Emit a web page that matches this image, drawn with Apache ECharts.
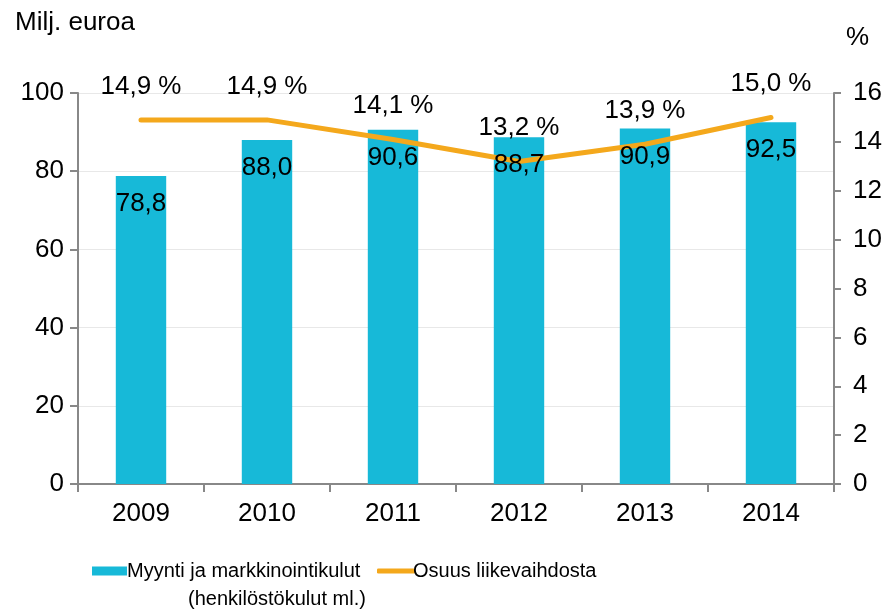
<!DOCTYPE html>
<html>
<head>
<meta charset="utf-8">
<script src="https://cdn.jsdelivr.net/npm/echarts@6/dist/echarts.min.js"></script>
<style>
html,body{margin:0;padding:0;background:#fff;}
#chart{width:886px;height:616px;}
</style>
</head>
<body>
<div id="chart"></div>
<script>
var categories = ['2009', '2010', '2011', '2012', '2013', '2014'];
var costs = [78.8, 88.0, 90.6, 88.7, 90.9, 92.5];
var share = [14.9, 14.9, 14.1, 13.2, 13.9, 15.0];
var leftTicks = [0, 20, 40, 60, 80, 100];
var rightTicks = [0, 2, 4, 6, 8, 10, 12, 14, 16];
var barName = 'Myynti ja markkinointikulut';
var barName2 = '(henkilöstökulut ml.)';
var lineName = 'Osuus liikevaihdosta';
var leftUnit = 'Milj. euroa';
var rightUnit = '%';

var FONT = "'Liberation Sans', Arial, sans-serif";
var BAR = '#17B9D8';
var LINE = '#F4A81C';
var AX = '#888888';

function fmt(v, d) { return v.toFixed(d).replace('.', ','); }

var chart = echarts.init(document.getElementById('chart'), null, {renderer: 'canvas'});
chart.setOption({
  animation: false,
  textStyle: {fontFamily: FONT},
  grid: {left: 78, right: 52, top: 93, bottom: 132, containLabel: false},
  xAxis: {
    type: 'category',
    data: categories,
    axisLine: {lineStyle: {color: AX, width: 2}},
    axisTick: {show: true, length: 8, lineStyle: {color: AX, width: 2}},
    axisLabel: {color: '#000', fontSize: 26, margin: 17, fontFamily: FONT}
  },
  yAxis: [{
    type: 'value', min: leftTicks[0], max: leftTicks[leftTicks.length - 1], interval: 20,
    axisLine: {show: true, lineStyle: {color: AX, width: 2}},
    axisTick: {show: true, length: 8, lineStyle: {color: AX, width: 2}},
    axisLabel: {color: '#000', fontSize: 26, margin: 14, fontFamily: FONT},
    splitLine: {show: true, lineStyle: {color: '#E8E8E8', width: 1}}
  }, {
    type: 'value', min: rightTicks[0], max: rightTicks[rightTicks.length - 1], interval: 2,
    position: 'right',
    axisLine: {show: true, lineStyle: {color: AX, width: 2}},
    axisTick: {show: true, length: 7, lineStyle: {color: AX, width: 2}},
    axisLabel: {color: '#000', fontSize: 26, margin: 19, fontFamily: FONT},
    splitLine: {show: false}
  }],
  legend: [{
    data: [{name: barName, icon: 'rect'}],
    left: 87, top: 556,
    itemWidth: 35, itemHeight: 9, itemGap: 4,
    textStyle: {fontSize: 20, color: '#000', fontFamily: FONT, padding: [0, 0, 0, -5]}
  }, {
    data: [{name: lineName, icon: 'roundRect'}],
    left: 372, top: 556,
    itemWidth: 38, itemHeight: 5,
    itemStyle: {color: LINE},
    textStyle: {fontSize: 20, color: '#000', fontFamily: FONT, padding: [0, 0, 0, -7]}
  }],
  graphic: [
    {type: 'text', left: 15, top: 10, style: {text: leftUnit, font: '26px ' + FONT, fill: '#000'}},
    {type: 'text', left: 846, top: 25, style: {text: rightUnit, font: '26px ' + FONT, fill: '#000'}},
    {type: 'text', left: 188, top: 589, style: {text: barName2, font: '20px ' + FONT, fill: '#000'}}
  ],
  series: [{
    name: barName,
    type: 'bar',
    data: costs,
    barWidth: '40%',
    itemStyle: {color: BAR},
    z: 1
  }, {
    name: lineName,
    type: 'line',
    yAxisIndex: 1,
    data: share,
    symbol: 'circle',
    symbolSize: 1,
    showSymbol: true,
    lineStyle: {color: LINE, width: 5, cap: 'round', join: 'round'},
    itemStyle: {color: LINE},
    label: {show: true, position: 'top', distance: 20, color: '#000', fontSize: 26, fontFamily: FONT,
      formatter: function (p) { return fmt(p.value, 1) + ' %'; }},
    z: 3
  }, {
    name: barName + ' (arvot)',
    type: 'bar',
    data: costs,
    barWidth: '40%',
    barGap: '-100%',
    itemStyle: {color: 'rgba(0,0,0,0)'},
    silent: true,
    label: {show: true, position: 'insideTop', distance: 15, color: '#000', fontSize: 26, fontFamily: FONT,
      formatter: function (p) { return fmt(p.value, 1); }},
    z: 5
  }]
});
</script>
</body>
</html>
